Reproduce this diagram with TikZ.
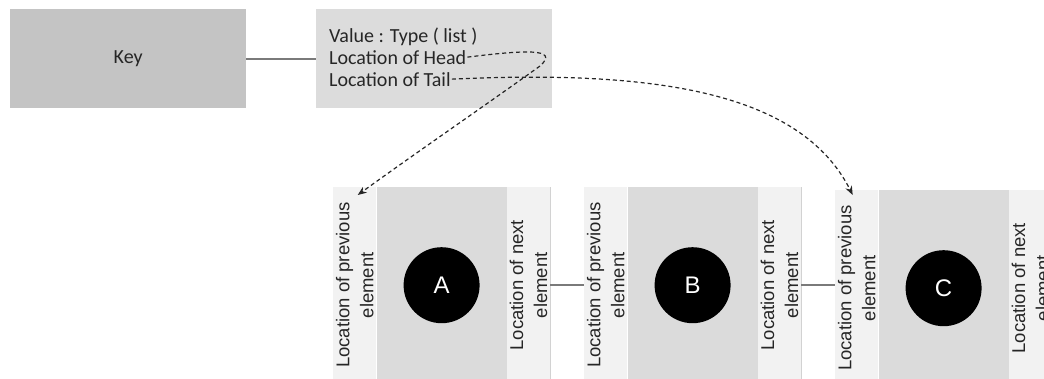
\documentclass[tikz,border=0pt]{standalone}
\usepackage{fontspec}
\setmainfont{Carlito}
\newfontfamily\arialfont{Liberation Sans}
\usetikzlibrary{arrows.meta,calc}

\definecolor{keygray}{HTML}{C4C4C4}
\definecolor{valgray}{HTML}{DCDCDC}
\definecolor{stripgray}{HTML}{F2F2F2}
\definecolor{coregray}{HTML}{DBDBDB}
\definecolor{edgegray}{HTML}{D2D2D2}
\definecolor{linkgray}{HTML}{7A7A7A}
\definecolor{inkgray}{HTML}{262626}

\tikzset{
  mapbox/.style={anchor=north west, inner sep=0pt, minimum width=236pt, minimum height=99pt},
  valline/.style={anchor=base west, inner sep=1pt, text=inkgray, font=\fontsize{20}{22}\selectfont},
  strip/.style={fill=stripgray, anchor=north west, inner sep=0pt, minimum width=43pt, minimum height=196pt},
  core/.style={fill=coregray, anchor=north west, inner sep=0pt, minimum width=130pt, minimum height=196pt},
  stripnote/.style={rotate=90, align=center, text=inkgray, inner sep=0pt,
    font=\arialfont\fontsize{18.5}{24}\selectfont},
  ball/.style={circle, fill=black, minimum size=76pt, inner sep=0pt, text=white,
    font=\arialfont\fontsize{24}{24}\selectfont},
  link/.style={draw=linkgray, line width=1.6pt},
  rim/.style={draw=edgegray, line width=1pt},
  pointer/.style={draw=inkgray, line width=1.2pt, dash pattern=on 4pt off 3pt,
    -{Stealth[length=9pt,width=7pt]}}
}

\begin{document}
\begin{tikzpicture}[x=1pt,y=-1pt]
\useasboundingbox (0,0) rectangle (1044,378);
\clip (0,0) rectangle (1044,378);

% hash entry: key and its value record
\node[mapbox, fill=keygray, font=\fontsize{20}{20}\selectfont, text=inkgray] (key) at (10,9) {Key};
\node[mapbox, fill=valgray] (val) at (316,9) {};
\node[valline] (vtype) at (328,42) {Value : Type ( list )};
\node[valline] (vhead) at (328,64) {Location of Head};
\node[valline] (vtail) at (328,86) {Location of Tail};
\draw[link] (key.east) -- (val.west);

% doubly linked list elements
\foreach \n/\x/\y in {A/333/187, B/584/187, C/835/190} {
  \node[strip] (\n-prev) at (\x,\y) {};
  \node[core] (\n-body) at (\n-prev.north east) {};
  \node[strip] (\n-next) at (\n-body.north east) {};
  \draw[rim] (\n-next.north east) -- (\n-next.south east);
  \node[ball] (\n-ball) at (\n-body.center) {\n};
  \node[stripnote] (\n-prevtxt) at (\n-prev.center) {Location of previous\\element};
  \node[stripnote] (\n-nexttxt) at (\n-next.center) {Location of next\\element};
}

\draw[link] (A-next.east) -- (B-prev.west |- A-next.east);
\draw[link] (B-next.east) -- (C-prev.west |- B-next.east);

% head and tail pointers
\draw[pointer] (vhead.east) .. controls (525,50) and (560,48) .. (540,66)
  .. controls (490,102) and (420,150) .. ($(A-prev.north)+(3,8)$);
\draw[pointer] (vtail.east) .. controls (650,70) and (800,90) .. ($(C-prev.north)+(-4,5)$);
\end{tikzpicture}
\end{document}
